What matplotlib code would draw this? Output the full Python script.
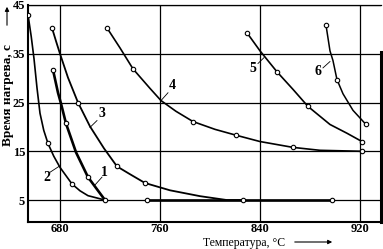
import matplotlib
matplotlib.use('Agg')
import matplotlib.pyplot as plt

plt.rcParams['font.family'] = ['Liberation Serif', 'DejaVu Serif']

# curve traces (temperature, time)
t1 = [674.4, 678.4, 680.8, 684.8, 692.8, 702.4, 716.0]
v1 = [31.7, 27.0, 24.8, 20.7, 14.8, 9.7, 5.0]
m1_t = [674.4, 684.8, 702.4, 716.0]
m1_v = [31.7, 20.7, 9.7, 5.0]

t2 = [654.4, 657.0, 659.2, 661.6, 664.0, 667.0, 670.4, 675.0, 680.0, 689.6, 696.0, 702.4, 716.0]
v2 = [43.0, 38.5, 34.0, 28.0, 22.8, 19.3, 16.6, 14.0, 11.7, 8.3, 6.9, 5.9, 5.0]
m2_t = [654.4, 670.4, 689.6]
m2_v = [43.0, 16.6, 8.3]

t3 = [673.6, 676.8, 680.0, 686.4, 694.4, 704.0, 715.2, 725.6, 736.0, 748.0, 768.0, 792.0, 813.6, 826.4]
v3 = [40.3, 37.6, 35.0, 30.1, 25.0, 20.1, 15.6, 11.9, 10.3, 8.5, 7.0, 5.8, 5.0, 5.0]
m3_t = [673.6, 694.4, 725.6, 748.0]
m3_v = [40.3, 25.0, 11.9, 8.5]

t4 = [717.6, 728.0, 738.4, 752.0, 760.8, 772.8, 786.4, 804.0, 820.8, 840.0, 866.4, 888.0, 921.6]
v4 = [40.3, 36.2, 31.9, 27.9, 25.4, 23.2, 21.1, 19.5, 18.3, 17.0, 15.8, 15.2, 15.0]
m4_t = [717.6, 738.4, 786.4, 820.8, 866.4, 921.6]
m4_v = [40.3, 31.9, 21.1, 18.3, 15.8, 15.0]

t5 = [829.6, 840.0, 853.6, 866.4, 878.4, 896.0, 909.6, 921.6]
v5 = [39.3, 35.6, 31.3, 27.7, 24.2, 20.5, 18.7, 17.0]
m5_t = [829.6, 853.6, 878.4, 921.6]
m5_v = [39.3, 31.3, 24.2, 17.0]

t6 = [892.8, 896.0, 898.4, 901.6, 906.4, 914.4, 924.8]
v6 = [40.9, 35.6, 33.6, 29.7, 26.8, 23.4, 20.5]
m6_t = [892.8, 901.6, 924.8]
m6_v = [40.9, 29.7, 20.5]

tb = [749.6, 826.4, 897.6]
vb = [5.0, 5.0, 5.0]

xticks = [680, 760, 840, 920]
yticks = [5, 15, 25, 35, 45]

# label text position, leader start, leader end
labels = ['1', '2', '3', '4', '5', '6']
lab_pos = [(715.2, 10.7), (669.6, 9.7), (713.6, 22.8), (769.6, 28.5), (834.4, 31.9), (886.4, 31.3)]
lead_a = [(708.0, 8.1), (679.2, 11.9), (704.0, 19.9), (760.8, 25.4), (843.2, 34.2), (896.0, 33.4)]
lead_b = [(713.6, 9.7), (672.0, 10.7), (709.6, 21.3), (766.4, 27.0), (838.4, 33.0), (890.4, 32.1)]

fig = plt.figure(figsize=(3.83, 2.49), dpi=100)
ax = fig.add_axes([0.0731, 0.1084, 0.9229, 0.8716])

ax.set_xlim(654.4, 937.2)
ax.set_ylim(0.5, 45)
ax.set_xticks(xticks)
ax.set_yticks(yticks)
ax.grid(True, color='black', linewidth=0.9)
ax.tick_params(length=0, labelsize=9, pad=2)
ax.tick_params(axis='x', pad=1)
for lab in ax.get_xticklabels() + ax.get_yticklabels():
    lab.set_fontweight('bold')

for s in ['left', 'bottom']:
    ax.spines[s].set_linewidth(1.5)
ax.spines['top'].set_linewidth(0.9)
ax.spines['right'].set_linewidth(2.2)
ax.spines['right'].set_bounds(0.5, 35.4)

curves = [(t1, v1, m1_t, m1_v, 1.9), (t2, v2, m2_t, m2_v, 1.2),
          (t3, v3, m3_t, m3_v, 1.3), (t4, v4, m4_t, m4_v, 1.2),
          (t5, v5, m5_t, m5_v, 1.2), (t6, v6, m6_t, m6_v, 1.1)]
for t, v, mt, mv, lw in curves:
    ax.plot(t, v, color='black', linewidth=lw, zorder=3)
    ax.plot(mt, mv, 'o', ms=3.2, mfc='white', mec='black', mew=0.8, zorder=4)

ax.plot(tb, vb, color='black', linewidth=1.9, zorder=3)
ax.plot(tb, vb, 'o', ms=3.2, mfc='white', mec='black', mew=0.8, zorder=4)

for lab, p, a, b in zip(labels, lab_pos, lead_a, lead_b):
    ax.plot([a[0], b[0]], [a[1], b[1]], color='black', linewidth=0.6, zorder=3)
    ax.text(p[0], p[1], lab, fontsize=10, fontweight='bold', ha='center', va='center', zorder=5)

fig.text(8 / 383, 1 - 95 / 249, 'Время нагрева, с', rotation=90, fontsize=9.5,
         fontweight='bold', ha='center', va='center')
fig.text(244 / 383, 1 - 242.5 / 249, 'Температура, °C', fontsize=8.5,
         ha='center', va='center')
fig.add_artist(matplotlib.patches.FancyArrowPatch(
    (292 / 383, 1 - 242 / 249), (335 / 383, 1 - 242 / 249), transform=fig.transFigure,
    arrowstyle='-|>', mutation_scale=6, color='black', linewidth=0.8))
fig.add_artist(matplotlib.patches.FancyArrowPatch(
    (7 / 383, 1 - 28 / 249), (7 / 383, 1 - 4 / 249), transform=fig.transFigure,
    arrowstyle='-|>', mutation_scale=6, color='black', linewidth=0.8))

fig.savefig('out.png', dpi=100)
